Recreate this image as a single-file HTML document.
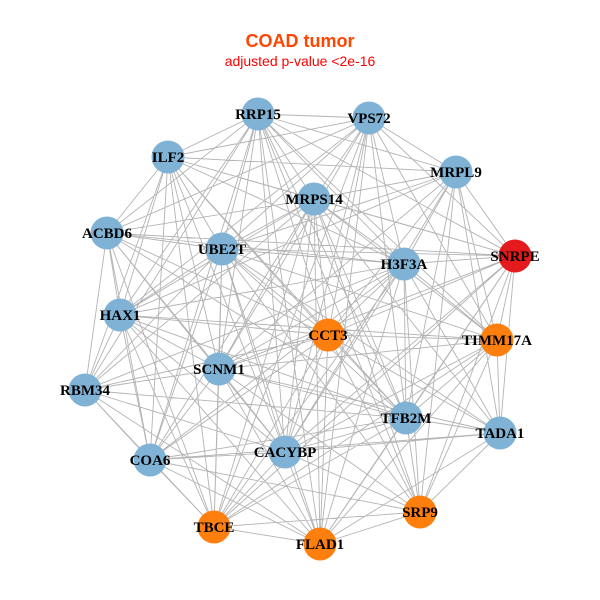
<!DOCTYPE html>
<html><head><meta charset="utf-8"><style>body{margin:0;background:#fff}svg{display:block}</style></head>
<body>
<svg width="600" height="600" xmlns="http://www.w3.org/2000/svg">
<rect width="600" height="600" fill="#fff"/>
<text x="300" y="47" text-anchor="middle" font-family="Liberation Sans, sans-serif" font-weight="bold" font-size="18" fill="#ff4500">COAD tumor</text>
<text x="300" y="66" text-anchor="middle" font-family="Liberation Sans, sans-serif" font-size="14" fill="#ff0000">adjusted p-value &lt;2e-16</text>
<path fill="none" stroke="#b3b3b3" stroke-width="0.9" d="
M258 114L369 118M258 114L168 157M258 114L314 199M258 114L107 233M258 114L222 249M258 114L404 264M258 114L515 256M258 114L120 315M258 114L328 335M258 114L219 369M258 114L85 390M258 114L406 418M258 114L285 452M258 114L150 460M258 114L420 512M258 114L320 544M258 114L456 172M258 114L497 340
M369 118L168 157M369 118L456 172M369 118L314 199M369 118L222 249M369 118L404 264M369 118L515 256M369 118L120 315M369 118L328 335M369 118L219 369M369 118L406 418M369 118L285 452M369 118L214 527M369 118L320 544M369 118L497 340M369 118L107 233
M168 157L314 199M168 157L107 233M168 157L222 249M168 157L404 264M168 157L515 256M168 157L120 315M168 157L328 335M168 157L219 369M168 157L85 390M168 157L406 418M168 157L285 452M168 157L150 460M168 157L214 527M168 157L456 172
M456 172L314 199M456 172L222 249M456 172L404 264M456 172L515 256M456 172L328 335M456 172L497 340M456 172L219 369M456 172L406 418M456 172L500 433M456 172L285 452M456 172L420 512M456 172L120 315
M314 199L107 233M314 199L222 249M314 199L404 264M314 199L515 256M314 199L120 315M314 199L328 335M314 199L497 340M314 199L219 369M314 199L85 390M314 199L406 418M314 199L500 433M314 199L285 452M314 199L150 460M314 199L214 527M314 199L420 512M314 199L320 544
M107 233L222 249M107 233L404 264M107 233L120 315M107 233L328 335M107 233L219 369M107 233L85 390M107 233L406 418M107 233L285 452M107 233L150 460M107 233L214 527M107 233L515 256
M222 249L404 264M222 249L515 256M222 249L120 315M222 249L328 335M222 249L497 340M222 249L219 369M222 249L85 390M222 249L406 418M222 249L500 433M222 249L285 452M222 249L150 460M222 249L214 527M222 249L420 512M222 249L320 544
M404 264L515 256M404 264L120 315M404 264L328 335M404 264L497 340M404 264L219 369M404 264L406 418M404 264L500 433M404 264L285 452M404 264L150 460M404 264L214 527M404 264L420 512M404 264L320 544M404 264L85 390
M515 256L328 335M515 256L497 340M515 256L219 369M515 256L406 418M515 256L500 433M515 256L285 452M515 256L214 527M515 256L420 512M515 256L320 544
M120 315L328 335M120 315L497 340M120 315L219 369M120 315L85 390M120 315L406 418M120 315L285 452M120 315L150 460M120 315L214 527M120 315L320 544
M328 335L497 340M328 335L219 369M328 335L85 390M328 335L406 418M328 335L285 452M328 335L150 460M328 335L214 527M328 335L420 512M328 335L320 544M328 335L500 433
M497 340L219 369M497 340L406 418M497 340L500 433M497 340L285 452M497 340L214 527M497 340L420 512M497 340L320 544
M219 369L85 390M219 369L406 418M219 369L500 433M219 369L285 452M219 369L150 460M219 369L214 527M219 369L420 512M219 369L320 544
M85 390L406 418M85 390L285 452M85 390L150 460M85 390L214 527M85 390L320 544
M406 418L500 433M406 418L285 452M406 418L150 460M406 418L214 527M406 418L420 512M406 418L320 544
M500 433L285 452M500 433L420 512M500 433L320 544M500 433L150 460
M285 452L150 460M285 452L214 527M285 452L420 512M285 452L320 544
M150 460L214 527M150 460L420 512M150 460L320 544
M214 527L420 512M214 527L320 544M420 512L320 544"/>
<g>
<circle cx="258" cy="114" r="16.5" fill="#7fb2d5"/>
<circle cx="369" cy="118" r="16.5" fill="#7fb2d5"/>
<circle cx="168" cy="157" r="16.5" fill="#7fb2d5"/>
<circle cx="456" cy="172" r="16.5" fill="#7fb2d5"/>
<circle cx="314" cy="199" r="16.5" fill="#7fb2d5"/>
<circle cx="107" cy="233" r="16.5" fill="#7fb2d5"/>
<circle cx="222" cy="249" r="16.5" fill="#7fb2d5"/>
<circle cx="404" cy="264" r="16.5" fill="#7fb2d5"/>
<circle cx="515" cy="256" r="16.5" fill="#e41a1c"/>
<circle cx="120" cy="315" r="16.5" fill="#7fb2d5"/>
<circle cx="328" cy="335" r="16.5" fill="#ff7f0e"/>
<circle cx="497" cy="340" r="16.5" fill="#ff7f0e"/>
<circle cx="219" cy="369" r="16.5" fill="#7fb2d5"/>
<circle cx="85" cy="390" r="16.5" fill="#7fb2d5"/>
<circle cx="406" cy="418" r="16.5" fill="#7fb2d5"/>
<circle cx="500" cy="433" r="16.5" fill="#7fb2d5"/>
<circle cx="285" cy="452" r="16.5" fill="#7fb2d5"/>
<circle cx="150" cy="460" r="16.5" fill="#7fb2d5"/>
<circle cx="214" cy="527" r="16.5" fill="#ff7f0e"/>
<circle cx="420" cy="512" r="16.5" fill="#ff7f0e"/>
<circle cx="320" cy="544" r="16.5" fill="#ff7f0e"/>
</g>
<g font-family="Liberation Serif, serif" font-weight="bold" font-size="15" text-anchor="middle" fill="#000">
<text x="258" y="119">RRP15</text>
<text x="369" y="123">VPS72</text>
<text x="168" y="162">ILF2</text>
<text x="456" y="177">MRPL9</text>
<text x="314" y="204">MRPS14</text>
<text x="107" y="238">ACBD6</text>
<text x="222" y="254">UBE2T</text>
<text x="404" y="269">H3F3A</text>
<text x="515" y="261">SNRPE</text>
<text x="120" y="320">HAX1</text>
<text x="328" y="340">CCT3</text>
<text x="497" y="345">TIMM17A</text>
<text x="219" y="374">SCNM1</text>
<text x="85" y="395">RBM34</text>
<text x="406" y="423">TFB2M</text>
<text x="500" y="438">TADA1</text>
<text x="285" y="457">CACYBP</text>
<text x="150" y="465">COA6</text>
<text x="214" y="532">TBCE</text>
<text x="420" y="517">SRP9</text>
<text x="320" y="549">FLAD1</text>
</g>
</svg>
</body></html>
